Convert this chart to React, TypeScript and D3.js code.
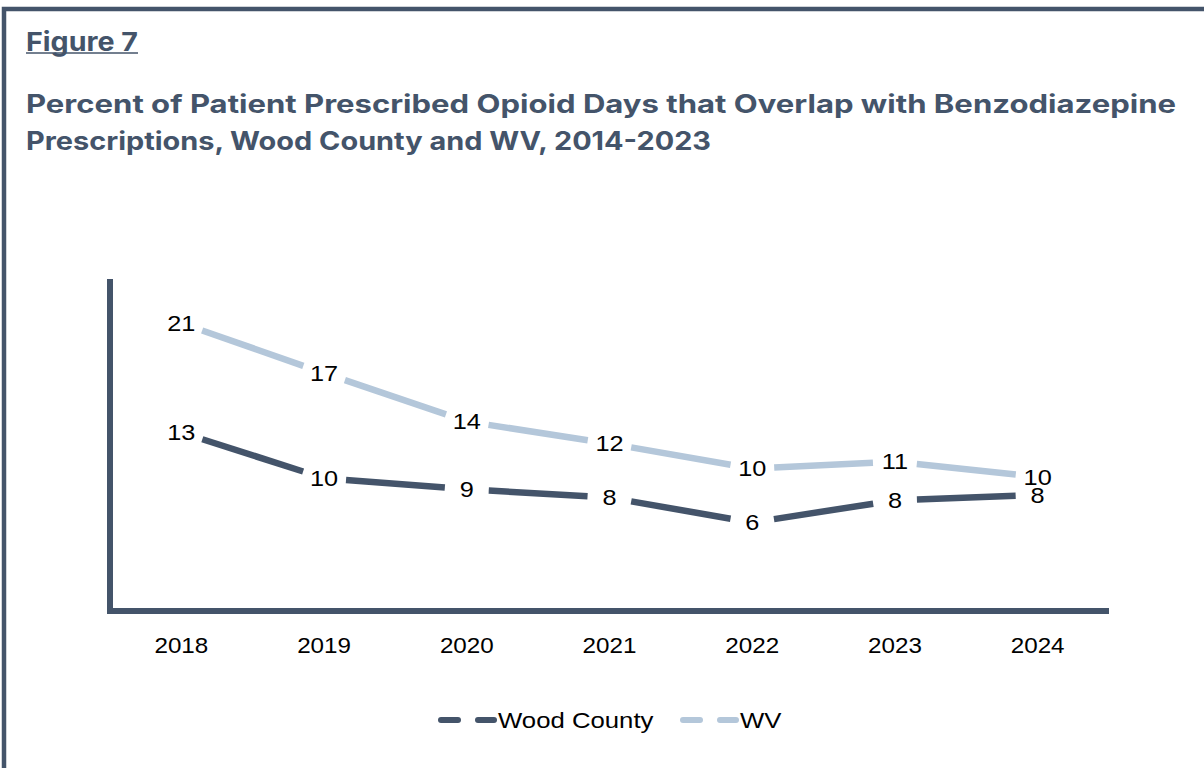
import React, { useEffect } from "react";
import * as d3 from "d3";

const years = ["2018", "2019", "2020", "2021", "2022", "2023", "2024"];
const woodCounty = [12.9, 9.6, 8.8, 8.2, 6.4, 8.0, 8.4];
const wv = [20.8, 17.2, 13.7, 12.1, 10.3, 10.8, 9.7];
const seriesNames = ["Wood County", "WV"];
const yMax = 24;

const DARK = "#44546A";
const LIGHT = "#B4C7DA";
const W = 1204;
const H = 768;
const SX = 1.1;

export default function App() {
  useEffect(() => {
    document.body.style.margin = "0";
  }, []);

  const x = d3.scaleBand().domain(years).range([110, 1109]);
  const y = d3.scaleLinear().domain([0, yMax]).range([611, 279]);
  const cx = (yr: string) => (x(yr) as number) + x.bandwidth() / 2;

  const series = [
    { name: seriesNames[0], values: woodCounty, color: DARK },
    { name: seriesNames[1], values: wv, color: LIGHT },
  ];

  const trim = 22;
  const segs = (vals: number[]) => {
    const out: { x1: number; y1: number; x2: number; y2: number }[] = [];
    for (let i = 0; i < vals.length - 1; i++) {
      const ax = cx(years[i]), ay = y(vals[i]);
      const bx = cx(years[i + 1]), by = y(vals[i + 1]);
      const len = Math.hypot(bx - ax, by - ay);
      const ux = (bx - ax) / len, uy = (by - ay) / len;
      out.push({ x1: ax + ux * trim, y1: ay + uy * trim, x2: bx - ux * trim, y2: by - uy * trim });
    }
    return out;
  };

  const labelFont = "'Liberation Sans', Arial, sans-serif";
  const titleFont = "Inter, 'Noto Sans', sans-serif";

  const legendItems = [
    { name: seriesNames[0], color: DARK, x0: 438 },
    { name: seriesNames[1], color: LIGHT, x0: 680 },
  ];

  const T = (props: { x: number; y: number; anchor?: string; size?: number; sx?: number; children: React.ReactNode; dy?: string }) => (
    <g transform={`translate(${props.x},${props.y}) scale(${props.sx || SX},1)`}>
      <text x={0} y={0} dy={props.dy} textAnchor={props.anchor || "middle"} fontFamily={labelFont}
        fontSize={props.size || 22} fill="#000">
        {props.children}
      </text>
    </g>
  );

  return (
    <svg width={W} height={H} style={{ position: "absolute", left: 0, top: 0, background: "#fff" }}>
      <path d={`M4,${H} V9 H${W}`} fill="none" stroke={DARK} strokeWidth={4.5} />

      <text x={26} y={51} fontFamily={titleFont} fontWeight={700} fontSize={26} fill={DARK}
        textLength={112} lengthAdjust="spacingAndGlyphs">Figure 7</text>
      <line x1={26} x2={138} y1={53} y2={53} stroke={DARK} strokeWidth={1.6} />

      <text x={26} y={113} fontFamily={titleFont} fontWeight={700} fontSize={25.5} fill={DARK}
        textLength={1150} lengthAdjust="spacingAndGlyphs">
        Percent of Patient Prescribed Opioid Days that Overlap with Benzodiazepine
      </text>
      <text x={26} y={150} fontFamily={titleFont} fontWeight={700} fontSize={25.5} fill={DARK}
        textLength={685} lengthAdjust="spacingAndGlyphs">
        Prescriptions, Wood County and WV, 2014-2023
      </text>

      {/* axes */}
      <line x1={110} x2={110} y1={279} y2={614} stroke={DARK} strokeWidth={6} />
      <line x1={107} x2={1109} y1={611} y2={611} stroke={DARK} strokeWidth={6} />

      {years.map((yr) => (
        <T key={yr} x={cx(yr)} y={653}>{yr}</T>
      ))}

      {series.map((s) => (
        <g key={s.name}>
          {segs(s.values).map((sg, i) => (
            <line key={i} {...sg} stroke={s.color} strokeWidth={6.5} strokeLinecap="butt" />
          ))}
        </g>
      ))}

      {series.map((s) => (
        <g key={s.name + "-labels"}>
          {s.values.map((v, i) => (
            <T key={i} x={cx(years[i])} y={y(v)} dy="0.35em" sx={1.15}>{Math.round(v)}</T>
          ))}
        </g>
      ))}

      {/* legend */}
      {legendItems.map((l) => (
        <g key={l.name}>
          <line x1={l.x0 + 3} x2={l.x0 + 20} y1={720} y2={720} stroke={l.color} strokeWidth={6} strokeLinecap="round" />
          <line x1={l.x0 + 40} x2={l.x0 + 56} y1={720} y2={720} stroke={l.color} strokeWidth={6} strokeLinecap="round" />
          <T x={l.x0 + 60} y={728} anchor="start" sx={1.17}>{l.name}</T>
        </g>
      ))}
    </svg>
  );
}
